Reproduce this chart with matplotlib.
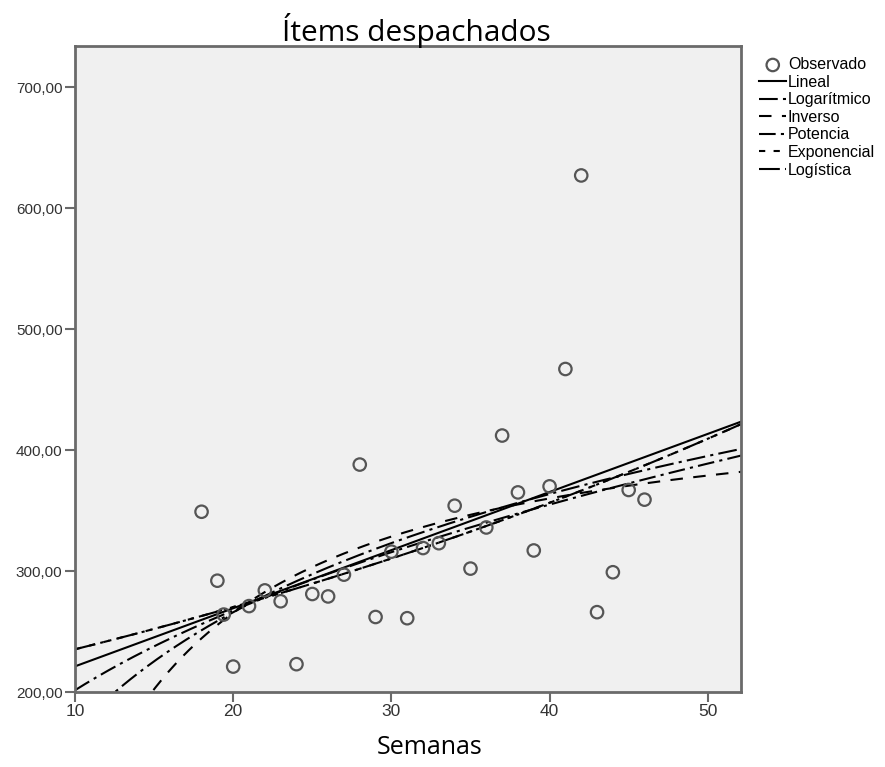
import numpy as np
import matplotlib
matplotlib.use("Agg")
import matplotlib.pyplot as plt
from matplotlib.ticker import FuncFormatter

semanas = [18, 19, 19.4, 20, 21, 22, 23, 24, 25, 26, 27, 28, 29, 30, 31, 32, 33,
           34, 35, 36, 37, 38, 39, 40, 41, 42, 43, 44, 45, 46]
items = [349, 292, 264, 221, 271, 284, 275, 223, 281, 279, 297, 388, 262, 316, 261,
         319, 323, 354, 302, 336, 412, 365, 317, 370, 467, 627, 266, 299, 367, 359]

yticks = [200, 300, 400, 500, 600, 700]
xticks = [10, 20, 30, 40, 50]

t = np.array(semanas, dtype=float)
y = np.array(items, dtype=float)

# Curve estimation fits (SPSS style)
b_lin = np.polyfit(t, y, 1)
b_log = np.polyfit(np.log(t), y, 1)
b_inv = np.polyfit(1 / t, y, 1)
b_pow = np.polyfit(np.log(t), np.log(y), 1)
b_exp = np.polyfit(t, np.log(y), 1)
b_lgs = np.polyfit(t, np.log(1 / y), 1)

tt = np.linspace(10, 52.2, 400)
curves = {
    "Lineal": np.polyval(b_lin, tt),
    "Logarítmico": np.polyval(b_log, np.log(tt)),
    "Inverso": np.polyval(b_inv, 1 / tt),
    "Potencia": np.exp(np.polyval(b_pow, np.log(tt))),
    "Exponencial": np.exp(np.polyval(b_exp, tt)),
    "Logística": 1 / np.exp(np.polyval(b_lgs, tt)),
}
styles = {
    "Lineal": "-",
    "Logarítmico": (0, (9, 2.5, 1.5, 2.5)),
    "Inverso": (0, (6, 5)),
    "Potencia": (0, (8, 2.5, 1.5, 2.5)),
    "Exponencial": (0, (3, 4)),
    "Logística": (0, (10, 2.5, 1.5, 2.5, 1.5, 2.5)),
}

fig = plt.figure(figsize=(8.85, 7.67), dpi=100)
ax = fig.add_axes([75 / 885, 1 - 692 / 767, (741 - 75) / 885, (692 - 46) / 767])
ax.set_facecolor("#f0f0f0")

ax.scatter(t, y, s=80, facecolors="none", edgecolors="#555555", linewidths=1.6,
           label="Observado", zorder=3)
for name, yy in curves.items():
    ax.plot(tt, yy, color="black", lw=1.5, linestyle=styles[name], label=name, zorder=2)

ax.set_xlim(10, 52.1)
ax.set_ylim(200, 734)
ax.set_xticks(xticks)
ax.set_yticks(yticks)
ax.yaxis.set_major_formatter(FuncFormatter(lambda v, p: f"{v:.2f}".replace(".", ",")))
for sp in ax.spines.values():
    sp.set_color("#6a6a6a")
    sp.set_linewidth(2)
ax.tick_params(direction="out", length=7, width=1.5, color="#6a6a6a",
               labelcolor="#333333", pad=2)
for lab in ax.get_yticklabels():
    lab.set_family("Liberation Sans")
    lab.set_fontsize(11)
for lab in ax.get_xticklabels():
    lab.set_family("Liberation Sans")
    lab.set_fontsize(12.5)

fig.text(416 / 885, 1 - 30 / 767, "Ítems despachados", fontsize=21.5, family="Open Sans",
         ha="center", va="center")
fig.text(430 / 885, 1 - 747 / 767, "Semanas", fontsize=18, family="Open Sans",
         ha="center", va="center")

leg = ax.legend(loc="upper left", bbox_to_anchor=(1.0 + 7 / 666, 1.0), frameon=False,
                prop={"family": "Liberation Sans", "size": 11.5}, handlelength=1.7,
                handletextpad=0.1, labelspacing=0.16, borderaxespad=0.3)

fig.savefig("out.png", dpi=100, facecolor="white")
